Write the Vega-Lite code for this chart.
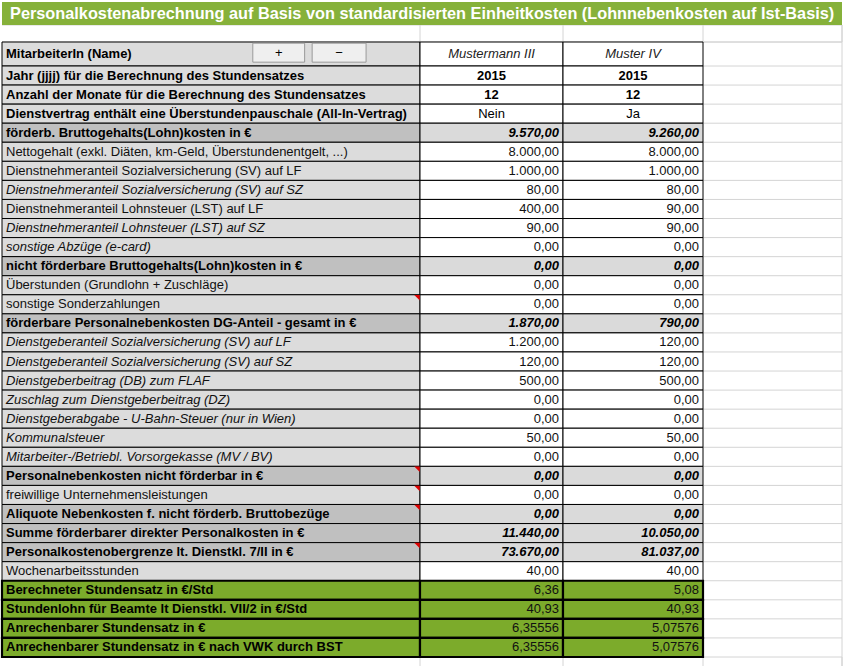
{
 "$schema": "https://vega.github.io/schema/vega-lite/v6.json",
 "width": 847, "height": 666,
 "autosize": {"type": "none"},
 "padding": 0,
 "background": "white",
 "config": {
  "view": {"stroke": null},
  "axis": {"disable": true},
  "legend": {"disable": true},
  "locale": {"number": {"decimal": ",", "thousands": ".", "grouping": [3], "currency": ["", " €"]}},
  "text": {"font": "Liberation Sans", "fontSize": 13, "baseline": "middle", "color": "#000000"}
 },
 "datasets": {
  "rows": [
   {"r": 1, "kind": "name", "label": "MitarbeiterIn (Name)", "a": "Mustermann III", "b": "Muster IV"},
   {"r": 2, "kind": "year", "label": "Jahr (jjjj) für die Berechnung des Stundensatzes", "a": 2015, "b": 2015},
   {"r": 3, "kind": "year", "label": "Anzahl der Monate für die Berechnung des Stundensatzes", "a": 12, "b": 12},
   {"r": 4, "kind": "flag", "label": "Dienstvertrag enthält eine Überstundenpauschale (All-In-Vertrag)", "a": "Nein", "b": "Ja"},
   {"r": 5, "kind": "total", "label": "förderb. Bruttogehalts(Lohn)kosten in €", "a": 9570, "b": 9260},
   {"r": 6, "kind": "item", "label": "Nettogehalt (exkl. Diäten, km-Geld, Überstundenentgelt, ...)", "a": 8000, "b": 8000},
   {"r": 7, "kind": "item", "label": "Dienstnehmeranteil Sozialversicherung (SV) auf LF", "a": 1000, "b": 1000},
   {"r": 8, "kind": "itemI", "label": "Dienstnehmeranteil Sozialversicherung (SV) auf SZ", "a": 80, "b": 80},
   {"r": 9, "kind": "item", "label": "Dienstnehmeranteil Lohnsteuer (LST) auf LF", "a": 400, "b": 90},
   {"r": 10, "kind": "itemI", "label": "Dienstnehmeranteil Lohnsteuer (LST) auf SZ", "a": 90, "b": 90},
   {"r": 11, "kind": "itemI", "label": "sonstige Abzüge (e-card)", "a": 0, "b": 0},
   {"r": 12, "kind": "total", "label": "nicht förderbare Bruttogehalts(Lohn)kosten in €", "a": 0, "b": 0},
   {"r": 13, "kind": "item", "label": "Überstunden (Grundlohn + Zuschläge)", "a": 0, "b": 0},
   {"r": 14, "kind": "item", "label": "sonstige Sonderzahlungen", "a": 0, "b": 0, "note": true},
   {"r": 15, "kind": "total", "label": "förderbare Personalnebenkosten DG-Anteil - gesamt in €", "a": 1870, "b": 790},
   {"r": 16, "kind": "itemI", "label": "Dienstgeberanteil Sozialversicherung (SV) auf LF", "a": 1200, "b": 120},
   {"r": 17, "kind": "itemI", "label": "Dienstgeberanteil Sozialversicherung (SV) auf SZ", "a": 120, "b": 120},
   {"r": 18, "kind": "itemI", "label": "Dienstgeberbeitrag (DB) zum FLAF", "a": 500, "b": 500},
   {"r": 19, "kind": "itemI", "label": "Zuschlag zum Dienstgeberbeitrag (DZ)", "a": 0, "b": 0},
   {"r": 20, "kind": "itemI", "label": "Dienstgeberabgabe - U-Bahn-Steuer (nur in Wien)", "a": 0, "b": 0},
   {"r": 21, "kind": "itemI", "label": "Kommunalsteuer", "a": 50, "b": 50},
   {"r": 22, "kind": "itemI", "label": "Mitarbeiter-/Betriebl. Vorsorgekasse (MV / BV)", "a": 0, "b": 0},
   {"r": 23, "kind": "total", "label": "Personalnebenkosten nicht förderbar in €", "a": 0, "b": 0, "note": true},
   {"r": 24, "kind": "item", "label": "freiwillige Unternehmensleistungen", "a": 0, "b": 0, "note": true},
   {"r": 25, "kind": "total", "label": "Aliquote Nebenkosten f. nicht förderb. Bruttobezüge", "a": 0, "b": 0, "note": true},
   {"r": 26, "kind": "total", "label": "Summe förderbarer direkter Personalkosten in €", "a": 11440, "b": 10050},
   {"r": 27, "kind": "total", "label": "Personalkostenobergrenze lt. Dienstkl. 7/II in €", "a": 73670, "b": 81037, "note": true},
   {"r": 28, "kind": "item", "label": "Wochenarbeitsstunden", "a": 40, "b": 40},
   {"r": 29, "kind": "green", "label": "Berechneter Stundensatz in €/Std", "a": 6.36, "b": 5.08},
   {"r": 30, "kind": "green", "label": "Stundenlohn für Beamte lt Dienstkl. VII/2 in €/Std", "a": 40.93, "b": 40.93},
   {"r": 31, "kind": "greenP", "label": "Anrechenbarer Stundensatz in €", "a": 6.35556, "b": 5.07576},
   {"r": 32, "kind": "greenP", "label": "Anrechenbarer Stundensatz in € nach VWK durch BST", "a": 6.35556, "b": 5.07576}
  ],
  "cols": [{"gx": 1}, {"gx": 2}, {"gx": 3}, {"gx": 4}],
  "edges": [{"e": -1}, {"e": 0}, {"e": 32}, {"e": 33}]
 },
 "data": {"name": "rows"},
 "transform": [
  {"calculate": "datum.r - 1", "as": "top"},
  {"calculate": "datum.r", "as": "bot"},
  {"calculate": "datum.r - 0.5", "as": "mid"}
 ],
 "layer": [
  {
   "mark": {"type": "rule", "color": "#d4d4d4", "strokeWidth": 1},
   "encoding": {
    "x": {"datum": 3, "type": "quantitative", "scale": {"domain": [0, 1, 2, 3, 4], "range": [2, 420, 563, 703, 842], "nice": false, "zero": false}},
    "x2": {"datum": 4},
    "y": {"field": "top", "type": "quantitative", "scale": {"domain": [-2, -1, 0, 1, 32, 33], "range": [2, 25, 42, 66, 657, 676], "nice": false, "zero": false}}
   }
  },
  {
   "data": {"name": "edges"},
   "mark": {"type": "rule", "color": "#d4d4d4", "strokeWidth": 1},
   "encoding": {
    "x": {"datum": 0, "type": "quantitative"},
    "x2": {"datum": 4},
    "y": {"field": "e", "type": "quantitative"}
   }
  },
  {
   "data": {"name": "cols"},
   "mark": {"type": "rule", "color": "#d4d4d4", "strokeWidth": 1},
   "encoding": {
    "x": {"field": "gx", "type": "quantitative"},
    "y": {"datum": -1, "type": "quantitative"},
    "y2": {"datum": 0}
   }
  },
  {
   "data": {"name": "cols"},
   "mark": {"type": "rule", "color": "#d4d4d4", "strokeWidth": 1},
   "encoding": {
    "x": {"field": "gx", "type": "quantitative"},
    "y": {"datum": 32, "type": "quantitative"},
    "y2": {"datum": 33}
   }
  },
  {
   "data": {"values": [{"gx": 4}]},
   "mark": {"type": "rule", "color": "#d4d4d4", "strokeWidth": 1},
   "encoding": {
    "x": {"field": "gx", "type": "quantitative"},
    "y": {"datum": -1, "type": "quantitative"},
    "y2": {"datum": 33}
   }
  },
  {
   "data": {"values": [{"title": "Personalkostenabrechnung auf Basis von standardisierten Einheitkosten (Lohnnebenkosten auf Ist-Basis)"}]},
   "layer": [
    {
     "mark": {"type": "rect", "color": "#86b13a"},
     "encoding": {
      "x": {"datum": 0, "type": "quantitative"},
      "x2": {"datum": 4},
      "y": {"datum": -2, "type": "quantitative"},
      "y2": {"datum": -1}
     }
    },
    {
     "mark": {"type": "text", "fontWeight": "bold", "fontSize": 16.3, "color": "white", "align": "center"},
     "encoding": {
      "x": {"datum": 1.015, "type": "quantitative"},
      "y": {"datum": -1.5, "type": "quantitative"},
      "text": {"field": "title"}
     }
    }
   ]
  },
  {
   "mark": {"type": "rect", "stroke": "black"},
   "encoding": {
    "x": {"datum": 0, "type": "quantitative"},
    "x2": {"datum": 1},
    "y": {"field": "top", "type": "quantitative"},
    "y2": {"field": "bot"},
    "fill": {"field": "kind", "type": "nominal", "scale": {"domain": ["name", "year", "flag", "total", "item", "itemI", "green", "greenP"], "range": ["#dcdcdc", "#dcdcdc", "#dcdcdc", "#c0c0c0", "#dcdcdc", "#dcdcdc", "#7cab2b", "#7cab2b"]}},
    "strokeWidth": {"condition": {"test": "indexof(datum.kind, 'green') == 0", "value": 2.2}, "value": 1}
   }
  },
  {
   "transform": [
    {"fold": ["a", "b"], "as": ["col", "v"]},
    {"calculate": "datum.col == 'a' ? 1 : 2", "as": "cx"},
    {"calculate": "datum.cx + 1", "as": "cx2"}
   ],
   "mark": {"type": "rect", "stroke": "black"},
   "encoding": {
    "x": {"field": "cx", "type": "quantitative"},
    "x2": {"field": "cx2"},
    "y": {"field": "top", "type": "quantitative"},
    "y2": {"field": "bot"},
    "fill": {"field": "kind", "type": "nominal", "scale": {"domain": ["name", "year", "flag", "total", "item", "itemI", "green", "greenP"], "range": ["#ffffff", "#ffffff", "#ffffff", "#dadada", "#ffffff", "#ffffff", "#7cab2b", "#7cab2b"]}},
    "strokeWidth": {"condition": {"test": "indexof(datum.kind, 'green') == 0", "value": 2.2}, "value": 1}
   }
  },
  {
   "transform": [{"filter": "indexof(['name','year','flag','total','green','greenP'], datum.kind) >= 0"}],
   "mark": {"type": "text", "fontWeight": "bold", "align": "left", "dx": 4},
   "encoding": {
    "x": {"datum": 0, "type": "quantitative"},
    "y": {"field": "mid", "type": "quantitative"},
    "text": {"field": "label"}
   }
  },
  {
   "transform": [{"filter": "datum.kind == 'item'"}],
   "mark": {"type": "text", "align": "left", "dx": 4, "color": "#111111"},
   "encoding": {
    "x": {"datum": 0, "type": "quantitative"},
    "y": {"field": "mid", "type": "quantitative"},
    "text": {"field": "label"}
   }
  },
  {
   "transform": [{"filter": "datum.kind == 'itemI'"}],
   "mark": {"type": "text", "align": "left", "dx": 4, "fontStyle": "italic", "color": "#111111"},
   "encoding": {
    "x": {"datum": 0, "type": "quantitative"},
    "y": {"field": "mid", "type": "quantitative"},
    "text": {"field": "label"}
   }
  },
  {
   "transform": [
    {"filter": "datum.kind == 'name'"},
    {"fold": ["a", "b"], "as": ["col", "v"]},
    {"calculate": "(datum.col == 'a' ? 1 : 2) + 0.5", "as": "xc"}
   ],
   "mark": {"type": "text", "align": "center", "fontStyle": "italic", "color": "#222222"},
   "encoding": {
    "x": {"field": "xc", "type": "quantitative"},
    "y": {"field": "mid", "type": "quantitative"},
    "text": {"field": "v", "type": "nominal"}
   }
  },
  {
   "transform": [
    {"filter": "datum.kind == 'year'"},
    {"fold": ["a", "b"], "as": ["col", "v"]},
    {"calculate": "(datum.col == 'a' ? 1 : 2) + 0.5", "as": "xc"}
   ],
   "mark": {"type": "text", "align": "center", "fontWeight": "bold"},
   "encoding": {
    "x": {"field": "xc", "type": "quantitative"},
    "y": {"field": "mid", "type": "quantitative"},
    "text": {"field": "v", "type": "quantitative", "format": "d"}
   }
  },
  {
   "transform": [
    {"filter": "datum.kind == 'flag'"},
    {"fold": ["a", "b"], "as": ["col", "v"]},
    {"calculate": "(datum.col == 'a' ? 1 : 2) + 0.5", "as": "xc"}
   ],
   "mark": {"type": "text", "align": "center"},
   "encoding": {
    "x": {"field": "xc", "type": "quantitative"},
    "y": {"field": "mid", "type": "quantitative"},
    "text": {"field": "v", "type": "nominal"}
   }
  },
  {
   "transform": [
    {"filter": "datum.kind == 'total'"},
    {"fold": ["a", "b"], "as": ["col", "v"]},
    {"calculate": "(datum.col == 'a' ? 1 : 2) + 1", "as": "xr"}
   ],
   "mark": {"type": "text", "align": "right", "dx": -4, "fontWeight": "bold", "fontStyle": "italic"},
   "encoding": {
    "x": {"field": "xr", "type": "quantitative"},
    "y": {"field": "mid", "type": "quantitative"},
    "text": {"field": "v", "type": "quantitative", "format": ",.2f"}
   }
  },
  {
   "transform": [
    {"filter": "indexof(['item','itemI','green'], datum.kind) >= 0"},
    {"fold": ["a", "b"], "as": ["col", "v"]},
    {"calculate": "(datum.col == 'a' ? 1 : 2) + 1", "as": "xr"}
   ],
   "mark": {"type": "text", "align": "right", "dx": -4, "color": "#111111"},
   "encoding": {
    "x": {"field": "xr", "type": "quantitative"},
    "y": {"field": "mid", "type": "quantitative"},
    "text": {"field": "v", "type": "quantitative", "format": ",.2f"}
   }
  },
  {
   "transform": [
    {"filter": "datum.kind == 'greenP'"},
    {"fold": ["a", "b"], "as": ["col", "v"]},
    {"calculate": "(datum.col == 'a' ? 1 : 2) + 1", "as": "xr"}
   ],
   "mark": {"type": "text", "align": "right", "dx": -4, "color": "#111111"},
   "encoding": {
    "x": {"field": "xr", "type": "quantitative"},
    "y": {"field": "mid", "type": "quantitative"},
    "text": {"field": "v", "type": "quantitative", "format": ".5f"}
   }
  },
  {
   "transform": [{"filter": "datum.note == true"}],
   "mark": {"type": "point", "shape": "M-1,-1L1,-1L1,1Z", "filled": true, "color": "#e00000", "size": 30, "opacity": 1, "xOffset": -3, "yOffset": 3},
   "encoding": {
    "x": {"datum": 1, "type": "quantitative"},
    "y": {"field": "top", "type": "quantitative"}
   }
  },
  {
   "data": {"values": [{"btn": "+"}]},
   "layer": [
    {
     "mark": {"type": "rect", "fill": "#efefef", "stroke": "#9a9a9a", "strokeWidth": 1},
     "encoding": {
      "x": {"datum": 0.6, "type": "quantitative"},
      "x2": {"datum": 0.724},
      "y": {"datum": 0.05, "type": "quantitative"},
      "y2": {"datum": 0.84}
     }
    },
    {
     "mark": {"type": "text", "align": "center"},
     "encoding": {
      "x": {"datum": 0.662, "type": "quantitative"},
      "y": {"datum": 0.45, "type": "quantitative"},
      "text": {"field": "btn"}
     }
    }
   ]
  },
  {
   "data": {"values": [{"btn": "−"}]},
   "layer": [
    {
     "mark": {"type": "rect", "fill": "#efefef", "stroke": "#9a9a9a", "strokeWidth": 1},
     "encoding": {
      "x": {"datum": 0.742, "type": "quantitative"},
      "x2": {"datum": 0.871},
      "y": {"datum": 0.05, "type": "quantitative"},
      "y2": {"datum": 0.84}
     }
    },
    {
     "mark": {"type": "text", "align": "center"},
     "encoding": {
      "x": {"datum": 0.8065, "type": "quantitative"},
      "y": {"datum": 0.45, "type": "quantitative"},
      "text": {"field": "btn"}
     }
    }
   ]
  }
 ],
 "resolve": {"scale": {"fill": "independent"}}
}
